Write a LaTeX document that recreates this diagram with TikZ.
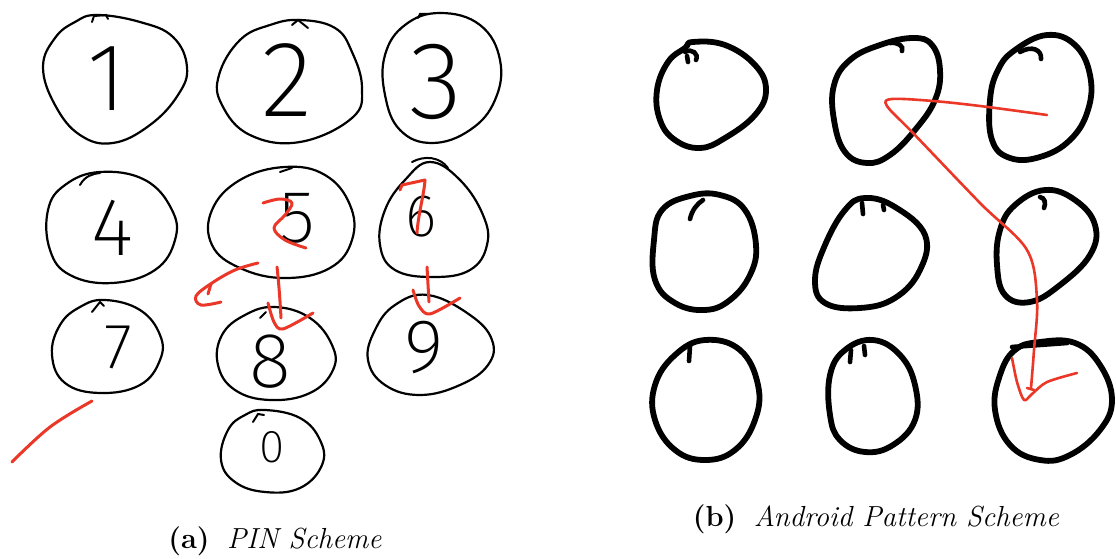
\documentclass[tikz,border=0pt]{standalone}
\usepackage{fontspec}
\newfontfamily\hand{Fira Sans ExtraLight}
\definecolor{pen}{RGB}{235,55,40}
\begin{document}
\begin{tikzpicture}[x=1pt,y=-1pt,
  thin ring/.style={draw=black,line width=2.2pt,line join=round},
  thick ring/.style={draw=black,line width=5.8pt,line join=round,line cap=round},
  redline/.style={draw=pen,line width=3pt,line cap=round,line join=round},
  redthin/.style={draw=pen,line width=2.6pt,line cap=round,line join=round},
  tick/.style={draw=black,line width=2pt,line cap=round},
  bigtick/.style={draw=black,line width=4.6pt,line cap=round},
  digit/.style={inner sep=0pt,text=black},
  caption/.style={inner sep=0pt,font=\fontsize{29}{34}\selectfont}]
\useasboundingbox (0,0) rectangle (1116,559);
% ---------- (a) PIN scheme ----------
\draw[thin ring] plot[smooth cycle,tension=0.7] coordinates {(97,15)(140,22)(173,37)(187,67)(178,95)(150,125)(113,143)(80,135)(55,105)(43,67)(55,38)(75,22)};
\draw[tick] (92,22) -- (94,16) -- (106,15) -- (108,19);
\draw[thin ring] plot[smooth cycle,tension=0.7] coordinates {(300,20)(335,28)(352,52)(362,88)(352,118)(300,142)(250,135)(222,105)(219,75)(240,40)(270,25)};
\draw[tick] (292,25) -- (298,20) -- (308,28);
\draw[thin ring] plot[smooth cycle,tension=0.7] coordinates {(440,13)(480,25)(500,60)(495,100)(470,130)(432,143)(400,130)(385,95)(385,55)(405,25)};
\draw[tick] (418,18) -- (420,14) -- (428,14);
\draw[thin ring] plot[smooth cycle,tension=0.7] coordinates {(100,172)(145,180)(172,210)(175,240)(155,270)(112,283)(70,275)(50,250)(48,210)(65,185)};
\draw[tick] (80,185) .. controls (85,176) and (92,174) .. (100,173);
\draw[thin ring] plot[smooth cycle,tension=0.7] coordinates {(285,167)(325,175)(350,205)(352,240)(330,268)(285,278)(240,268)(212,245)(212,210)(240,180)};
\draw[tick] (280,172) -- (292,168);
\draw[thin ring] plot[smooth cycle,tension=0.7] coordinates {(430,162)(460,180)(483,215)(487,245)(470,270)(433,277)(395,270)(380,245)(385,210)(405,180)};
\draw[tick] (412,162) .. controls (425,155) and (440,157) .. (448,168);
\draw[thin ring] plot[smooth cycle,tension=0.7] coordinates {(105,300)(140,310)(160,335)(160,360)(140,385)(100,393)(65,383)(52,355)(60,325)(80,307)};
\draw[tick] (92,312) -- (100,302) -- (104,306);
\draw[thin ring] plot[smooth cycle,tension=0.7] coordinates {(275,307)(310,318)(332,345)(333,370)(310,393)(270,400)(235,390)(218,365)(222,335)(245,315)};
\draw[tick] (260,318) -- (266,312);
\draw[thin ring] plot[smooth cycle,tension=0.7] coordinates {(428,295)(470,315)(492,340)(488,365)(460,385)(420,395)(385,385)(368,360)(375,330)(395,305)};
\draw[thin ring] plot[smooth cycle,tension=0.7] coordinates {(265,410)(300,418)(320,440)(322,465)(300,488)(265,492)(235,482)(221,460)(228,430)(245,415)};
\draw[tick] (253,422) -- (258,414) -- (264,415);
\node[digit,font=\hand\fontsize{96}{96}\selectfont] (d1) at (107,79) {1};
\node[digit,font=\hand\fontsize{108}{108}\selectfont] (d2) at (287,80) {2};
\node[digit,font=\hand\fontsize{110}{110}\selectfont] (d3) at (436,82) {3};
\node[digit,font=\hand\fontsize{82}{82}\selectfont] (d4) at (113,228) {4};
\node[digit,font=\hand\fontsize{74}{74}\selectfont] (d5) at (297,218) {5};
\node[digit,font=\hand\fontsize{60}{60}\selectfont] (d6) at (421,217) {6};
\node[digit,font=\hand\fontsize{64}{64}\selectfont] (d7) at (118,347) {7};
\node[digit,font=\hand\fontsize{78}{78}\selectfont] (d8) at (270,362) {8};
\node[digit,font=\hand\fontsize{76}{76}\selectfont] (d9) at (424,348) {9};
\node[digit,font=\hand\fontsize{46}{46}\selectfont] (d0) at (272,447) {0};
% red strokes
\draw[redline] plot[smooth,tension=0.6] coordinates {(263,203)(280,199)(292,203)(285,215)(274,228)(285,240)(306,248)};
\draw[redline] plot[smooth,tension=0.6] coordinates {(258,263)(235,270)(212,283)(196,296)(201,305)(221,302)};
\draw[redline] (211,284) -- (208,294);
\draw[redline] (277,267) .. controls (279,285) and (280,300) .. (281,318);
\draw[redline] plot[smooth,tension=0.5] coordinates {(268,303)(274,322)(283,329)(313,313)};
\draw[redline] (400,190) -- (402,185) -- (425,180) .. controls (424,195) and (418,215) .. (417,233);
\draw[redline] (427,267) -- (429,302);
\draw[redline] plot[smooth,tension=0.5] coordinates {(413,290)(419,306)(430,314)(460,298)};
\draw[redline] plot[smooth,tension=0.6] coordinates {(92,401)(50,427)(12,462)};
% ---------- (b) Android pattern ----------
\draw[thick ring] plot[smooth cycle,tension=0.7] coordinates {(693,42)(725,45)(755,65)(766,90)(755,115)(725,138)(700,148)(675,140)(660,120)(657,90)(668,62)(685,48)};
\draw[bigtick] (685,52) .. controls (692,48) and (699,54) .. (696,60);
\draw[bigtick] (687,56) -- (688,62);
\draw[thick ring] plot[smooth cycle,tension=0.7] coordinates {(913,38)(932,45)(940,70)(935,100)(915,130)(890,155)(867,163)(845,152)(834,120)(834,85)(850,60)(880,45)};
\draw[bigtick] (890,43) .. controls (898,42) and (904,46) .. (902,51);
\draw[thick ring] plot[smooth cycle,tension=0.7] coordinates {(1047,35)(1075,45)(1090,75)(1088,110)(1070,140)(1040,157)(1010,158)(992,140)(990,100)(998,70)(1015,50)};
\draw[bigtick] (1020,52) .. controls (1032,45) and (1042,50) .. (1041,59);
\draw[thick ring] plot[smooth cycle,tension=0.7] coordinates {(720,195)(745,210)(756,245)(750,275)(730,300)(705,310)(675,303)(655,280)(654,240)(662,210)(690,196)};
\draw[bigtick] (690,219) .. controls (692,210) and (697,204) .. (703,200);
\draw[thick ring] plot[smooth cycle,tension=0.7] coordinates {(865,198)(895,207)(925,235)(920,270)(895,298)(860,308)(825,303)(815,280)(825,245)(845,210)};
\draw[bigtick] (862,203) -- (863,214);
\draw[bigtick] (883,205) -- (884,210);
\draw[thick ring] plot[smooth cycle,tension=0.7] coordinates {(1045,190)(1075,200)(1095,225)(1090,255)(1060,285)(1030,302)(1005,295)(997,265)(1000,230)(1015,205)};
\draw[bigtick] (1040,197) .. controls (1045,198) and (1046,203) .. (1044,208);
\draw[thick ring] plot[smooth cycle,tension=0.7] coordinates {(705,340)(740,350)(758,385)(755,420)(735,450)(705,460)(675,450)(655,420)(655,385)(675,355)};
\draw[bigtick] (690,346) -- (689,361);
\draw[thick ring] plot[smooth cycle,tension=0.7] coordinates {(873,340)(900,355)(915,385)(915,420)(893,445)(865,452)(840,440)(830,415)(830,375)(845,350)};
\draw[bigtick] (851,350) -- (850,362);
\draw[bigtick] (864,346) -- (865,355);
\draw[thick ring] plot[smooth cycle,tension=0.7] coordinates {(1040,342)(1075,343)(1100,365)(1112,400)(1100,430)(1070,455)(1040,460)(1010,445)(995,410)(1000,375)(1015,350)};
\draw[bigtick] (1012,347) -- (1067,343);
\draw[redthin] plot[smooth,tension=0.55] coordinates {(1047,115)(980,106)(933,101)(892,99)(887,106)(913,133)(980,203)(1027,250)(1037,300)(1034,350)(1031,388)};
\draw[redthin] plot[smooth,tension=0.5] coordinates {(1012,358)(1017,382)(1024,400)(1032,394)(1047,382)(1077,373)};
\draw[redthin] (1027,388) -- (1034,390);
% captions
\node[caption] (capa) at (275,541) {\textbf{(a)}\ \ \textit{PIN Scheme}};
\node[caption] (capb) at (876,519) {\textbf{(b)}\ \ \textit{Android Pattern Scheme}};
\end{tikzpicture}
\end{document}
